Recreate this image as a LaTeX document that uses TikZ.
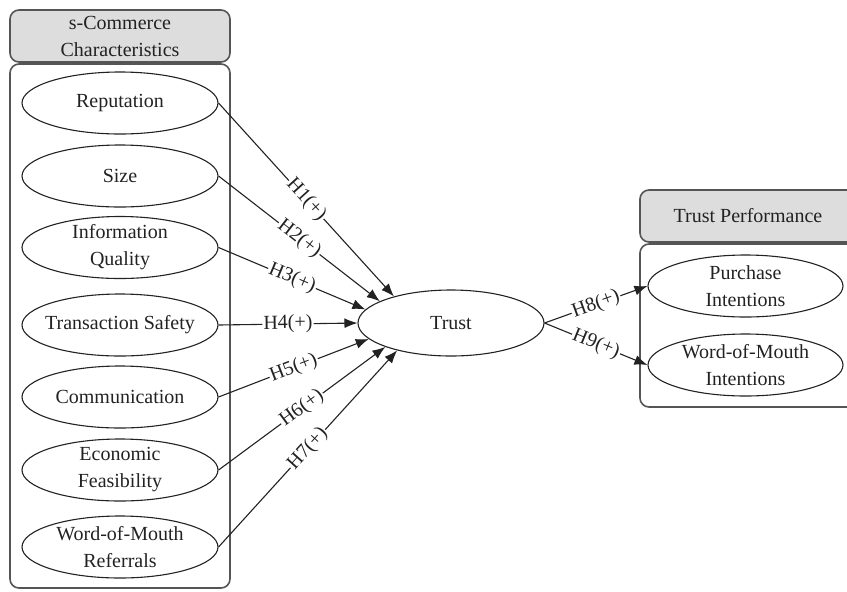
\documentclass[tikz,border=0pt]{standalone}
\usepackage{fontspec}
\setmainfont{LiberationSerif}[Extension=.ttf,UprightFont=*-Regular,BoldFont=*-Bold,ItalicFont=*-Italic,BoldItalicFont=*-BoldItalic]
\usetikzlibrary{shapes.geometric,arrows.meta}
\definecolor{hdrgray}{HTML}{DDDDDD}
\definecolor{boxline}{HTML}{555555}
\definecolor{ink}{HTML}{222222}
\tikzset{
  txt/.style={font=\fontsize{10}{13.5}\selectfont, text=ink, align=center, inner sep=0pt},
  ell/.style={ellipse, draw=ink, line width=0.55pt, inner sep=0pt, minimum width=98pt, minimum height=31pt},
  hdr/.style={draw=boxline, fill=hdrgray, line width=0.8pt, rounded corners=4.5pt, txt},
  bodybox/.style={draw=boxline, line width=0.8pt, rounded corners=4.5pt},
  conn/.style={draw=ink, line width=0.55pt, -{Latex[length=6.5pt,width=5pt]}},
  hlab/.style={txt, sloped, midway, fill=white, inner sep=0.6pt}
}
\begin{document}
\begin{tikzpicture}[x=0.5pt,y=-0.5pt]
\clip (0,0) rectangle (847,591);
% left group
\node[hdr, minimum width=110pt, minimum height=26pt] (lhdr) at (120,36) {s-Commerce\\Characteristics};
\node[bodybox, minimum width=110pt, minimum height=262pt] (lbody) at (120,326) {};
\node[ell, label={[txt]center:Reputation}] (rep) at (120,103) {};
\node[ell, label={[txt]center:Size}] (size) at (120,176) {};
\node[ell, label={[txt]center:Information\\Quality}] (info) at (120,247.5) {};
\node[ell, label={[txt]center:Transaction Safety}] (trans) at (120,325) {};
\node[ell, label={[txt]center:Communication}] (comm) at (120,397) {};
\node[ell, label={[txt]center:Economic\\Feasibility}] (econ) at (120,470) {};
\node[ell, label={[txt]center:Word-of-Mouth\\Referrals}] (womr) at (120,547) {};
% trust
\node[ell, minimum width=93pt, minimum height=33pt, label={[txt]center:Trust}] (trust) at (451,323) {};
% right group
\node[hdr, minimum width=108pt, minimum height=26pt] (rhdr) at (748,216) {Trust Performance};
\node[bodybox, minimum width=108pt, minimum height=81.5pt] (rbody) at (748,325.5) {};
\node[ell, minimum width=97.5pt, label={[txt]center:Purchase\\Intentions}] (pur) at (745.5,286) {};
\node[ell, minimum width=97.5pt, label={[txt]center:Word-of-Mouth\\Intentions}] (womi) at (745.5,365) {};
% connectors
\draw[conn] (rep.east) -- node[hlab]{H1(+)} (trust.155);
\draw[conn] (size.east) -- node[hlab]{H2(+)} (trust.163);
\draw[conn] (info.east) -- node[hlab]{H3(+)} (trust.171);
\draw[conn] (trans.east) -- node[hlab]{H4(+)} (trust.180);
\draw[conn] (comm.east) -- node[hlab]{H5(+)} (trust.191);
\draw[conn] (econ.east) -- node[hlab]{H6(+)} (trust.200);
\draw[conn] (womr.east) -- node[hlab]{H7(+)} (trust.207);
\draw[conn] (trust.east) -- node[hlab]{H8(+)} (pur.west);
\draw[conn] (trust.east) -- node[hlab]{H9(+)} (womi.west);
\end{tikzpicture}
\end{document}
